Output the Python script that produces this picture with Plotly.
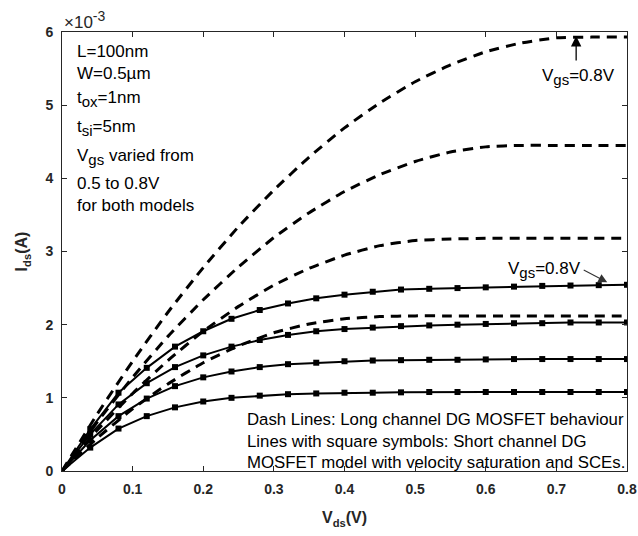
import plotly.graph_objects as go

# ---------------- data (drain current in units of 1e-3 A) ----------------
vds_long = [0.00, 0.05, 0.10, 0.15, 0.20, 0.25, 0.30, 0.35, 0.40,
            0.45, 0.50, 0.55, 0.60, 0.65, 0.70, 0.75, 0.80]
ids_long_vgs08 = [0, 0.78, 1.50, 2.17, 2.78, 3.34, 3.84, 4.29, 4.69,
                  5.03, 5.32, 5.55, 5.73, 5.85, 5.92, 5.93, 5.93]
ids_long_vgs07 = [0, 0.67, 1.28, 1.84, 2.34, 2.79, 3.19, 3.53, 3.82,
                  4.05, 4.23, 4.36, 4.43, 4.45, 4.45, 4.45, 4.45]
ids_long_vgs06 = [0, 0.56, 1.06, 1.51, 1.91, 2.25, 2.54, 2.77, 2.95,
                  3.08, 3.15, 3.17, 3.18, 3.18, 3.18, 3.18, 3.18]
ids_long_vgs05 = [0, 0.45, 0.85, 1.19, 1.48, 1.71, 1.89, 2.01, 2.08,
                  2.11, 2.12, 2.12, 2.12, 2.12, 2.12, 2.12, 2.12]

vds_short = [0.00, 0.04, 0.08, 0.12, 0.16, 0.20, 0.24, 0.28, 0.32, 0.36, 0.40,
             0.44, 0.48, 0.52, 0.56, 0.60, 0.64, 0.68, 0.72, 0.76, 0.80]
ids_short_vgs08 = [0, 0.57, 1.07, 1.41, 1.70, 1.91, 2.08, 2.20, 2.29, 2.36, 2.41,
                   2.45, 2.48, 2.49, 2.50, 2.51, 2.52, 2.53, 2.535, 2.54, 2.545]
ids_short_vgs07 = [0, 0.50, 0.91, 1.20, 1.42, 1.58, 1.70, 1.79, 1.86, 1.91, 1.94,
                   1.96, 1.98, 1.99, 2.00, 2.01, 2.02, 2.02, 2.03, 2.03, 2.03]
ids_short_vgs06 = [0, 0.42, 0.75, 0.99, 1.16, 1.28, 1.36, 1.42, 1.46, 1.48, 1.50,
                   1.51, 1.515, 1.52, 1.52, 1.525, 1.53, 1.53, 1.53, 1.53, 1.53]
ids_short_vgs05 = [0, 0.32, 0.58, 0.75, 0.87, 0.95, 1.00, 1.03, 1.05, 1.06, 1.07,
                   1.07, 1.075, 1.08, 1.08, 1.08, 1.08, 1.08, 1.08, 1.08, 1.08]

x_tick_vals = [0, 0.1, 0.2, 0.3, 0.4, 0.5, 0.6, 0.7, 0.8]
x_tick_text = ["0", "0.1", "0.2", "0.3", "0.4", "0.5", "0.6", "0.7", "0.8"]
y_tick_vals = [0, 1, 2, 3, 4, 5, 6]
y_tick_text = ["0", "1", "2", "3", "4", "5", "6"]


def sub(s, px=15):
    return '<sub><span style="font-size:%dpx">%s</span></sub>' % (px, s)


param_lines = ["L=100nm", "W=0.5\u00b5m", "t" + sub("ox") + "=1nm", "t" + sub("si") + "=5nm",
               "V" + sub("gs") + " varied from", "0.5 to 0.8V", "for both models"]
note_lines = ["Dash Lines: Long channel DG MOSFET behaviour",
              "Lines with square symbols: Short channel DG",
              "MOSFET model with velocity saturation and SCEs."]
vgs_label = "V" + sub("gs") + "=0.8V"

# ---------------- figure ----------------
FONT = "Liberation Sans, Arial, Helvetica, sans-serif"
INK = "#262626"

fig = go.Figure()

for ys in [ids_long_vgs08, ids_long_vgs07, ids_long_vgs06, ids_long_vgs05]:
    fig.add_trace(go.Scatter(
        x=vds_long, y=ys, mode="lines",
        line=dict(color="black", width=3, dash="10px,7px", shape="spline", smoothing=0.5),
        showlegend=False, hoverinfo="skip"))

for ys in [ids_short_vgs08, ids_short_vgs07, ids_short_vgs06, ids_short_vgs05]:
    fig.add_trace(go.Scatter(
        x=vds_short, y=ys, mode="lines+markers",
        line=dict(color="black", width=2),
        marker=dict(symbol="square", size=6, color="black"),
        showlegend=False, hoverinfo="skip"))

annotations = []
param_y = [5.73, 5.43, 5.08, 4.69, 4.29, 3.93, 3.63]
for txt, yy in zip(param_lines, param_y):
    annotations.append(dict(x=0.018, y=yy, xref="x", yref="y", text=txt,
                            showarrow=False, xanchor="left", yanchor="middle",
                            font=dict(family=FONT, size=17, color="black")))

note_y = [0.70, 0.40, 0.12]
for txt, yy in zip(note_lines, note_y):
    annotations.append(dict(x=0.259, y=yy, xref="x", yref="y", text=txt,
                            showarrow=False, xanchor="left", yanchor="middle",
                            font=dict(family=FONT, size=16.8, color="black")))

# exponent label
annotations.append(dict(x=0.0, y=6.0, xref="x", yref="y",
                        text='\u00d710<sup><span style="font-size:14px">-3</span></sup>',
                        showarrow=False, xanchor="left", yanchor="bottom", yshift=-2,
                        font=dict(family=FONT, size=17, color=INK)))

# Vgs labels and arrows
annotations.append(dict(x=0.732, y=5.38, xref="x", yref="y", text=vgs_label,
                        showarrow=False, xanchor="center", yanchor="middle",
                        font=dict(family=FONT, size=17, color="black")))
annotations.append(dict(x=0.728, y=5.945, xref="x", yref="y", text="",
                        showarrow=True, ax=0, ay=26, arrowhead=2, arrowsize=1.6,
                        arrowwidth=1.3, arrowcolor="black"))
annotations.append(dict(x=0.683, y=2.75, xref="x", yref="y", text=vgs_label,
                        showarrow=False, xanchor="center", yanchor="middle",
                        font=dict(family=FONT, size=17, color="black")))
annotations.append(dict(x=0.772, y=2.58, xref="x", yref="y", text="",
                        showarrow=True, ax=-25, ay=-13, arrowhead=2, arrowsize=1.6,
                        arrowwidth=1.1, arrowcolor="#333333"))

axis_common = dict(showgrid=False, zeroline=False, showline=True, linecolor=INK,
                   linewidth=1, mirror="ticks", ticks="inside", ticklen=5,
                   tickcolor=INK, tickwidth=1, automargin=False, ticklabelstandoff=5,
                   ticklabeloverflow="allow",
                   tickfont=dict(family=FONT, size=14, color=INK, weight="bold"))

fig.update_layout(
    width=638, height=536,
    margin=dict(l=62, r=11, t=32, b=65),
    paper_bgcolor="white", plot_bgcolor="white",
    annotations=annotations,
    xaxis=dict(range=[0, 0.8], tickvals=x_tick_vals, ticktext=x_tick_text,
               title=dict(text="V<sub>ds</sub>(V)", standoff=16,
                          font=dict(family=FONT, size=16, color=INK, weight="bold")),
               **axis_common),
    yaxis=dict(range=[0, 6], tickvals=y_tick_vals, ticktext=y_tick_text,
               title=dict(text="I<sub>ds</sub>(A)", standoff=13,
                          font=dict(family=FONT, size=16, color=INK, weight="bold")),
               **axis_common),
)

# remove the default page margin so the figure fills the window exactly
fig.write_html("out.html", config={"displayModeBar": False},
               post_script="document.body.style.margin='0';document.body.style.overflow='hidden';")
